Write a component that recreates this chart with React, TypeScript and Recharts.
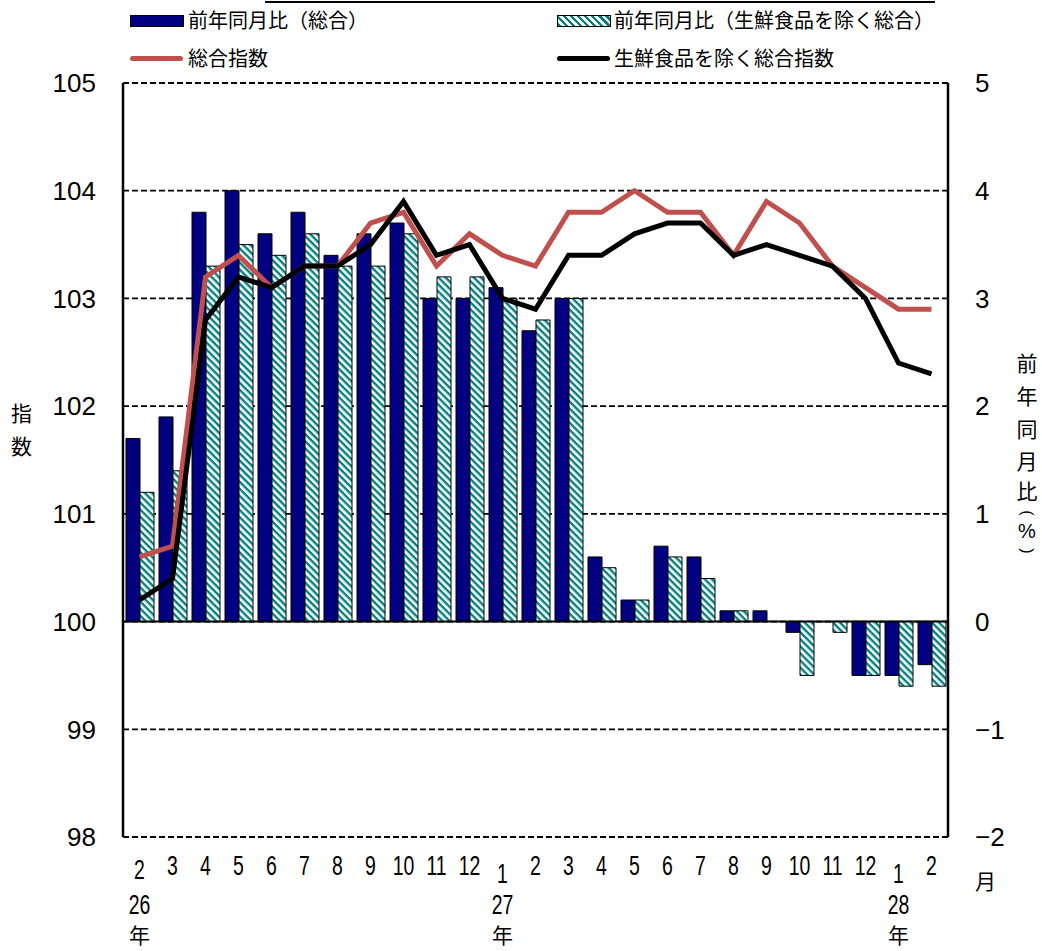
import React from 'react';
import { ComposedChart, Bar, Line, XAxis, YAxis, CartesianGrid, ReferenceLine } from 'recharts';

const months = ['2', '3', '4', '5', '6', '7', '8', '9', '10', '11', '12', '1', '2', '3', '4', '5', '6', '7', '8', '9', '10', '11', '12', '1', '2'];
const yearLabels: Record<number, string> = { 0: '26', 11: '27', 23: '28' };
const yoyTotal = [1.7, 1.9, 3.8, 4.0, 3.6, 3.8, 3.4, 3.6, 3.7, 3.0, 3.0, 3.1, 2.7, 3.0, 0.6, 0.2, 0.7, 0.6, 0.1, 0.1, -0.1, 0.0, -0.5, -0.5, -0.4];
const yoyCore = [1.2, 1.4, 3.3, 3.5, 3.4, 3.6, 3.3, 3.3, 3.6, 3.2, 3.2, 3.0, 2.8, 3.0, 0.5, 0.2, 0.6, 0.4, 0.1, 0.0, -0.5, -0.1, -0.5, -0.6, -0.6];
const indexTotal = [100.6, 100.7, 103.2, 103.4, 103.1, 103.3, 103.3, 103.7, 103.8, 103.3, 103.6, 103.4, 103.3, 103.8, 103.8, 104.0, 103.8, 103.8, 103.4, 103.9, 103.7, 103.3, 103.1, 102.9, 102.9];
const indexCore = [100.2, 100.4, 102.8, 103.2, 103.1, 103.3, 103.3, 103.5, 103.9, 103.4, 103.5, 103.0, 102.9, 103.4, 103.4, 103.6, 103.7, 103.7, 103.4, 103.5, 103.4, 103.3, 103.0, 102.4, 102.3];
const leftTicks = [98, 99, 100, 101, 102, 103, 104, 105];
const rightTicks = [-2, -1, 0, 1, 2, 3, 4, 5];

const legendLabels = {
  yoyTotal: '前年同月比（総合）',
  yoyCore: '前年同月比（生鮮食品を除く総合）',
  indexTotal: '総合指数',
  indexCore: '生鮮食品を除く総合指数',
};
const leftTitle = ['指', '数'];
const rightTitle = ['前', '年', '同', '月', '比', '(', '%', ')'];

const data = months.map((m, i) => ({
  idx: i,
  month: m,
  yoyTotal: yoyTotal[i],
  yoyCore: yoyCore[i],
  indexTotal: indexTotal[i],
  indexCore: indexCore[i],
}));

const NUM_FONT = '"Liberation Sans", Arial, sans-serif';
const JP_FONT = '"Noto Sans CJK JP", "Noto Sans", sans-serif';

const NarrowText = ({ x, y, children, size = 27 }: any) => (
  <text
    transform={`translate(${x},${y}) scale(0.72,1)`}
    x={0}
    y={0}
    textAnchor="middle"
    fontSize={size}
    fontFamily={NUM_FONT}
    fill="#000"
  >
    {children}
  </text>
);

const MonthTick = (props: any) => {
  const { x, y, payload } = props;
  const i = Number(payload.value);
  const extra = i === 0 ? 4 : i === 11 || i === 23 ? 8 : 0;
  const yl = yearLabels[i];
  return (
    <g>
      <NarrowText x={x} y={y + 30 + extra}>{months[i]}</NarrowText>
      {yl && (
        <>
          <NarrowText x={x} y={y + 69}>{yl}</NarrowText>
          <text x={x} y={y + 98} textAnchor="middle" fontSize={21} fontFamily={JP_FONT} fill="#000">
            年
          </text>
        </>
      )}
    </g>
  );
};

const fmtRight = (v: number) => (v < 0 ? '−' + Math.abs(v) : String(v));

export default function App() {
  const txt: React.CSSProperties = { position: 'absolute', fontFamily: JP_FONT, fontSize: 20, color: '#000', lineHeight: '24px', whiteSpace: 'nowrap' };
  const rightTitleY = [362, 395, 428, 460, 490, 513, 531, 551];
  return (
    <div style={{ position: 'absolute', left: 0, top: 0, width: 1042, height: 951, background: '#fff' }}>
      {/* legend */}
      <div style={{ position: 'absolute', left: 265, top: 1, width: 670, height: 2, background: '#000' }} />
      <div style={{ position: 'absolute', left: 130, top: 15, width: 52, height: 10, background: '#000080', border: '1px solid #000' }} />
      <div style={{ ...txt, left: 188, top: 8 }}>{legendLabels.yoyTotal}</div>
      <div
        style={{
          position: 'absolute', left: 557, top: 15, width: 52, height: 10, border: '1px solid #000',
          background: 'repeating-linear-gradient(45deg, #008080 0px, #008080 2.5px, #fff 2.5px, #fff 5px)',
        }}
      />
      <div style={{ ...txt, left: 614, top: 8 }}>{legendLabels.yoyCore}</div>
      <div style={{ position: 'absolute', left: 130, top: 56, width: 53, height: 5, background: '#C0504D', borderRadius: 3 }} />
      <div style={{ ...txt, left: 188, top: 46 }}>{legendLabels.indexTotal}</div>
      <div style={{ position: 'absolute', left: 557, top: 56, width: 53, height: 5, background: '#000', borderRadius: 3 }} />
      <div style={{ ...txt, left: 614, top: 46 }}>{legendLabels.indexCore}</div>

      {/* axis titles */}
      {leftTitle.map((c, k) => (
        <div key={c} style={{ ...txt, left: 11, top: 400 + k * 33, fontSize: 21 }}>{c}</div>
      ))}
      {rightTitle.map((c, k) => {
        const paren = c === '(' || c === ')';
        return (
          <div
            key={k}
            style={{
              ...txt,
              left: 1015,
              top: rightTitleY[k] - (paren ? 8 : 12),
              width: 24,
              height: paren ? 16 : 24,
              lineHeight: paren ? '16px' : '24px',
              textAlign: 'center',
              fontFamily: paren || c === '%' ? NUM_FONT : JP_FONT,
              fontSize: paren ? 16 : c === '%' ? 20 : 21,
              transform: paren ? 'rotate(90deg)' : undefined,
            }}
          >
            {c}
          </div>
        );
      })}
      <div style={{ ...txt, left: 975, top: 868, fontSize: 21 }}>月</div>

      <ComposedChart
        width={1042}
        height={951}
        data={data}
        margin={{ top: 83, right: 34, bottom: 74, left: 63 }}
        barCategoryGap={3}
        barGap={0}
        style={{ position: 'absolute', left: 0, top: 0 }}
      >
        <defs>
          <pattern id="hatch" width="5" height="5" patternUnits="userSpaceOnUse" patternTransform="rotate(45)">
            <rect width="5" height="5" fill="#fff" />
            <rect width="5" height="2.4" fill="#008080" />
          </pattern>
        </defs>
        <CartesianGrid yAxisId="left" vertical={false} stroke="#000" strokeDasharray="6 3" strokeWidth={1.8} />
        <XAxis dataKey="idx" type="category" interval={0} tick={<MonthTick />} axisLine={false} tickLine={false} height={40} />
        <YAxis
          yAxisId="left"
          domain={[98, 105]}
          ticks={leftTicks}
          interval={0}
          width={60}
          tickLine={false}
          tickMargin={21}
          axisLine={{ stroke: '#000', strokeWidth: 2.5 }}
          tick={{ fill: '#000', fontSize: 26, fontFamily: NUM_FONT }}
        />
        <YAxis
          yAxisId="right"
          orientation="right"
          domain={[-2, 5]}
          ticks={rightTicks}
          interval={0}
          width={60}
          tickLine={false}
          tickMargin={21}
          tickFormatter={fmtRight}
          axisLine={{ stroke: '#000', strokeWidth: 2.5 }}
          tick={{ fill: '#000', fontSize: 26, fontFamily: NUM_FONT, textAnchor: 'start' }}
        />
        <Bar yAxisId="right" dataKey="yoyTotal" fill="#000080" stroke="#000" strokeWidth={1} isAnimationActive={false} />
        <Bar yAxisId="right" dataKey="yoyCore" fill="url(#hatch)" stroke="#000" strokeWidth={1} isAnimationActive={false} />
        <ReferenceLine yAxisId="right" y={0} stroke="#000" strokeWidth={2} />
        <Line yAxisId="left" type="linear" dataKey="indexTotal" stroke="#C0504D" strokeWidth={5} dot={false} activeDot={false} isAnimationActive={false} />
        <Line yAxisId="left" type="linear" dataKey="indexCore" stroke="#000" strokeWidth={5} dot={false} activeDot={false} isAnimationActive={false} />
      </ComposedChart>
    </div>
  );
}
